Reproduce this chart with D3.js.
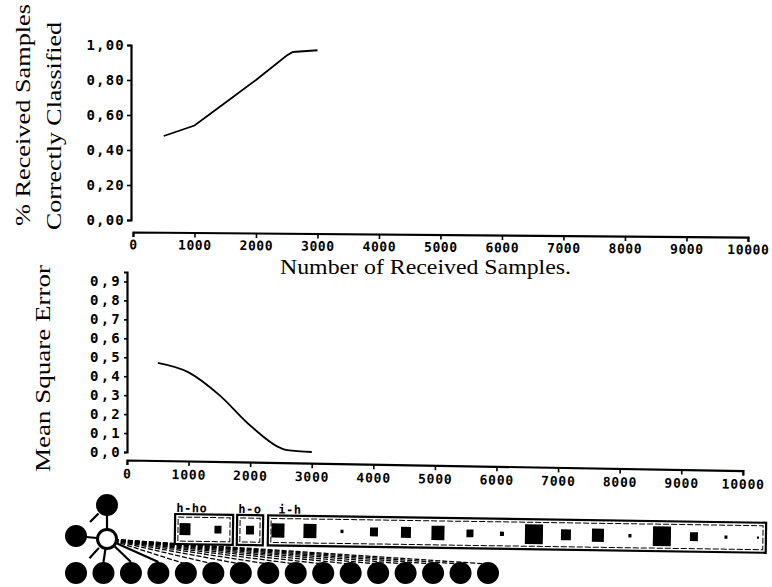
<!DOCTYPE html>
<html>
<head>
<meta charset="utf-8">
<script src="https://cdn.jsdelivr.net/npm/d3@7"></script>
<style>
  body { margin: 0; background: #fff; }
  svg { display: block; }
  .tick text { font-family: "DejaVu Sans Mono", monospace; font-weight: bold; fill: #000; }
  .title { font-family: "Liberation Serif", "DejaVu Serif", serif; fill: #000; }
</style>
</head>
<body>
<svg width="772" height="587"></svg>
<script>
// top panel: fraction of received samples correctly classified
const samplesTop = [500, 1000, 1500, 2000, 2500, 2600, 3000];
const classified = [0.48, 0.54, 0.67, 0.80, 0.94, 0.96, 0.97];
const classTicks = [0, 0.2, 0.4, 0.6, 0.8, 1.0];

// bottom panel: mean square error
const samplesBottom = [500, 1000, 1500, 2000, 2500, 2600, 3000];
const mse = [0.47, 0.42, 0.30, 0.14, 0.02, 0.01, 0.0];
const mseTicks = [0, 0.1, 0.2, 0.3, 0.4, 0.5, 0.6, 0.7, 0.8, 0.9];

const sampleTicks = [0, 1000, 2000, 3000, 4000, 5000, 6000, 7000, 8000, 9000, 10000];

// weight groups (Hinton squares), magnitude 0..1
const groupNames = ["h-ho", "h-o", "i-h"];
const hhoWeights = [0.55, 0.35];
const hoWeights = [0.4];
const ihWeights = [0.65, 0.65, 0.15, 0.4, 0.5, 0.65, 0.35, 0.2, 0.9, 0.5, 0.6, 0.15, 0.9, 0.4, 0.15, 0.1];
const outputCount = 16;

const comma = f => v => f(v).replace(".", ",");

let svg = d3.select("svg");
svg.append("rect").attr("width", 772).attr("height", 587).attr("fill", "#fff");

// ---------- top chart ----------
let xTop = d3.scaleLinear().domain([0, 10000]).range([133, 748]);
let yTop = d3.scaleLinear().domain([0, 1]).range([220, 45]);

let gyTop = svg.append("g")
  .attr("transform", "translate(131,0)")
  .call(d3.axisLeft(yTop).tickValues(classTicks).tickFormat(comma(d3.format(".2f"))).tickSizeOuter(0).tickSize(4).tickPadding(2));
gyTop.selectAll("text").attr("font-size", 14).attr("letter-spacing", 1.2);

let gxTop = svg.append("g")
  .attr("transform", "translate(0,232) rotate(0.47,133,0)")
  .call(d3.axisBottom(xTop).tickValues(sampleTicks).tickFormat(d3.format("d")).tickSizeOuter(0).tickSize(5).tickPadding(3));
gxTop.selectAll("text").attr("font-size", 13).attr("letter-spacing", 0.6);

svg.selectAll(".domain").attr("stroke-width", 2.2);
svg.selectAll(".tick line").attr("stroke-width", 1.6);

let line = d3.line();
svg.append("path")
  .datum(samplesTop.map((s, i) => [xTop(s), yTop(classified[i])]))
  .attr("d", line)
  .attr("fill", "none")
  .attr("stroke", "#000")
  .attr("stroke-width", 1.8);

// rotated titles: anchored at their start so textLength does not shift them
function vTitle(text, x, yStart, len) {
  svg.append("text").attr("class", "title")
    .attr("transform", `translate(${x},${yStart}) rotate(-90)`)
    .attr("font-size", 21)
    .attr("textLength", len).attr("lengthAdjust", "spacingAndGlyphs")
    .text(text);
}
vTitle("% Received Samples", 30, 226, 222);
vTitle("Correctly Classified", 61, 230, 208);
vTitle("Mean Square Error", 50, 472, 207);

svg.append("text").attr("class", "title")
  .attr("x", 280).attr("y", 274)
  .attr("font-size", 22)
  .attr("textLength", 291).attr("lengthAdjust", "spacingAndGlyphs")
  .text("Number of Received Samples.");

// ---------- bottom chart ----------
let xBot = d3.scaleLinear().domain([0, 10000]).range([127, 743]);
let yBot = d3.scaleLinear().domain([0, 0.95]).range([452, 272]);

let gyBot = svg.append("g")
  .attr("transform", "translate(127,0)")
  .call(d3.axisLeft(yBot).tickValues(mseTicks).tickFormat(comma(d3.format(".1f"))).tickSizeOuter(0).tickSize(3).tickPadding(2));
gyBot.selectAll("text").attr("font-size", 14).attr("letter-spacing", 2.2);

let gxBot = svg.append("g")
  .attr("transform", "translate(0,460) rotate(0.98,127,0)")
  .call(d3.axisBottom(xBot).tickValues(sampleTicks).tickFormat(d3.format("d")).tickSizeOuter(0).tickSize(5).tickPadding(4));
gxBot.selectAll("text").attr("font-size", 13).attr("letter-spacing", 0.8);

svg.selectAll(".domain").attr("stroke-width", 2.2);
svg.selectAll(".tick line").attr("stroke-width", 1.6);

svg.append("path")
  .datum(samplesBottom.map((s, i) => [xBot(s), yBot(mse[i])]))
  .attr("d", d3.line().curve(d3.curveMonotoneX))
  .attr("fill", "none")
  .attr("stroke", "#000")
  .attr("stroke-width", 1.8);

// ---------- network sketch ----------
let xNet = d3.scalePoint().domain(d3.range(outputCount)).range([76, 488]);
let net = svg.append("g");
let hub = [107, 539], topNode = [107, 505], leftNode = [76, 536], rowY = 573, r = 11;

net.selectAll("line.fan")
  .data(d3.range(1, outputCount))
  .enter().append("line")
  .attr("x1", hub[0]).attr("y1", hub[1])
  .attr("x2", d => xNet(d)).attr("y2", d => rowY - r + (d < 4 ? 0 : 2))
  .attr("stroke", "#000")
  .attr("stroke-width", d => d < 4 ? 2.2 : 1.3)
  .attr("stroke-dasharray", d => d < 4 ? null : "5,2");

net.append("line")
  .attr("x1", hub[0]).attr("y1", hub[1]).attr("x2", topNode[0]).attr("y2", topNode[1])
  .attr("stroke", "#000").attr("stroke-width", 2.2);
net.append("line")
  .attr("x1", hub[0]).attr("y1", hub[1]).attr("x2", leftNode[0]).attr("y2", leftNode[1])
  .attr("stroke", "#000").attr("stroke-width", 2.2);
net.append("line")
  .attr("x1", topNode[0]).attr("y1", topNode[1]).attr("x2", leftNode[0]).attr("y2", leftNode[1])
  .attr("stroke", "#000").attr("stroke-width", 2.2).attr("stroke-dasharray", "0,12,12,40");
net.append("line")
  .attr("x1", hub[0]).attr("y1", hub[1]).attr("x2", xNet(0)).attr("y2", rowY)
  .attr("stroke", "#000").attr("stroke-width", 2.2).attr("stroke-dasharray", "0,12,14,40");

net.selectAll("circle.out")
  .data(d3.range(outputCount))
  .enter().append("circle")
  .attr("cx", d => xNet(d)).attr("cy", rowY).attr("r", r)
  .attr("fill", "#000");
net.append("circle").attr("cx", topNode[0]).attr("cy", topNode[1]).attr("r", r).attr("fill", "#000");
net.append("circle").attr("cx", leftNode[0]).attr("cy", leftNode[1]).attr("r", r).attr("fill", "#000");
net.append("circle").attr("cx", hub[0]).attr("cy", hub[1]).attr("r", r - 1.5)
  .attr("fill", "#fff").attr("stroke", "#000").attr("stroke-width", 3);

// ---------- Hinton boxes ----------
let groups = [
  { name: groupNames[0], w: hhoWeights, x0: 175, x1: 233, p0: 185, p1: 218 },
  { name: groupNames[1], w: hoWeights, x0: 237, x1: 263, p0: 250, p1: 250 },
  { name: groupNames[2], w: ihWeights, x0: 268, x1: 766, p0: 278, p1: 758 }
];
let maxSq = 20;
let hin = svg.append("g").attr("transform", "rotate(0.85,175,528)");
let boxTop = 514, boxBot = 544, midY = (boxTop + boxBot) / 2;

groups.forEach(g => {
  let gg = hin.append("g");
  gg.append("rect")
    .attr("x", g.x0).attr("y", boxTop).attr("width", g.x1 - g.x0).attr("height", boxBot - boxTop)
    .attr("fill", "none").attr("stroke", "#000").attr("stroke-width", 2.2);
  gg.append("rect")
    .attr("x", g.x0 + 3).attr("y", boxTop + 3).attr("width", g.x1 - g.x0 - 6).attr("height", boxBot - boxTop - 6)
    .attr("fill", "none").attr("stroke", "#000").attr("stroke-width", 1).attr("stroke-dasharray", "6,2");
  let px = d3.scalePoint().domain(d3.range(g.w.length)).range([g.p0, g.p1]);
  gg.selectAll("rect.sq")
    .data(g.w)
    .enter().append("rect")
    .attr("x", (d, i) => px(i) - d * maxSq / 2)
    .attr("y", d => midY - d * maxSq * 0.55)
    .attr("width", d => d * maxSq)
    .attr("height", d => d * maxSq * 1.1)
    .attr("fill", "#000");
  gg.append("text")
    .attr("x", g.name === "i-h" ? g.x0 + 10 : g.x0 + 1).attr("y", boxTop - 2)
    .attr("font-family", "DejaVu Sans Mono, monospace")
    .attr("font-weight", "bold")
    .attr("font-size", 12)
    .attr("letter-spacing", 0.5)
    .text(g.name);
});
</script>
</body>
</html>
